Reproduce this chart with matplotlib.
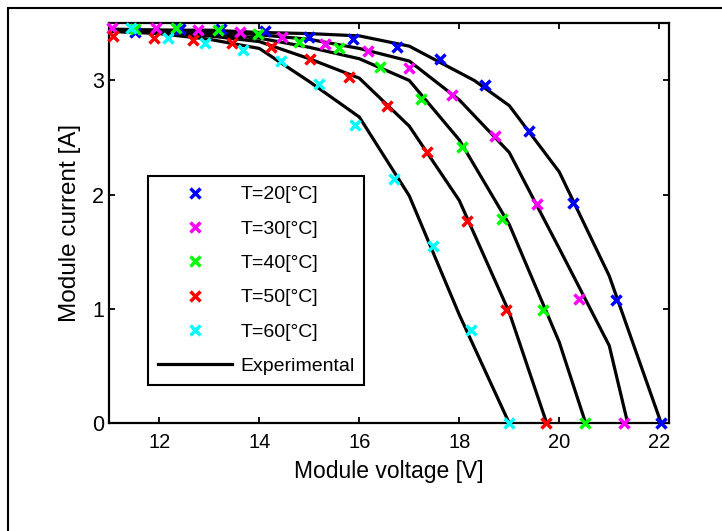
import matplotlib
matplotlib.use("Agg")
import matplotlib.pyplot as plt
from matplotlib.patches import Rectangle

plt.rcParams["font.family"] = ["Liberation Sans", "DejaVu Sans"]

# experimental I-V curves (black lines)
v_exp_20 = [11, 12, 13, 14, 15, 16, 17, 18.3, 19, 20, 21, 22.04]
i_exp_20 = [3.45, 3.44, 3.44, 3.42, 3.41, 3.39, 3.30, 3.00, 2.78, 2.20, 1.29, 0]
v_exp_30 = [11, 12, 13, 14, 15, 16, 17, 18, 19, 20, 21, 21.37]
i_exp_30 = [3.44, 3.44, 3.43, 3.40, 3.36, 3.28, 3.17, 2.83, 2.37, 1.53, 0.68, 0]
v_exp_40 = [11, 12, 13, 14, 15, 16, 17, 18, 19, 20, 20.53]
i_exp_40 = [3.44, 3.43, 3.41, 3.37, 3.29, 3.19, 3.00, 2.48, 1.74, 0.71, 0]
v_exp_50 = [11, 12, 13, 14, 15, 16, 17, 18, 19, 19.75]
i_exp_50 = [3.43, 3.42, 3.39, 3.34, 3.19, 3.02, 2.60, 1.95, 0.97, 0]
v_exp_60 = [11, 12, 13, 14, 15, 16, 17, 18, 19.0]
i_exp_60 = [3.43, 3.41, 3.36, 3.28, 2.99, 2.68, 1.99, 0.95, 0]

# simulated points (coloured crosses)
v_sim_20 = [11.51, 12.41, 13.24, 14.11, 14.99, 15.88, 16.76, 17.62, 18.52, 19.40, 20.28, 21.14, 22.04]
i_sim_20 = [3.42, 3.45, 3.45, 3.43, 3.38, 3.36, 3.29, 3.19, 2.96, 2.56, 1.93, 1.08, 0]
v_sim_30 = [11.05, 11.94, 12.77, 13.61, 14.45, 15.32, 16.17, 17.00, 17.85, 18.71, 19.56, 20.40, 21.29]
i_sim_30 = [3.46, 3.46, 3.44, 3.42, 3.38, 3.32, 3.26, 3.11, 2.87, 2.51, 1.92, 1.09, 0]
v_sim_40 = [11.51, 12.34, 13.17, 13.97, 14.79, 15.60, 16.42, 17.23, 18.05, 18.86, 19.67, 20.52]
i_sim_40 = [3.45, 3.46, 3.44, 3.41, 3.34, 3.28, 3.12, 2.84, 2.42, 1.79, 0.99, 0]
v_sim_50 = [11.07, 11.89, 12.67, 13.46, 14.24, 15.02, 15.80, 16.56, 17.35, 18.15, 18.93, 19.74]
i_sim_50 = [3.39, 3.37, 3.35, 3.33, 3.29, 3.19, 3.03, 2.78, 2.37, 1.77, 0.99, 0]
v_sim_60 = [11.44, 12.17, 12.91, 13.67, 14.44, 15.20, 15.92, 16.70, 17.47, 18.23, 18.99]
i_sim_60 = [3.46, 3.37, 3.33, 3.27, 3.17, 2.97, 2.61, 2.14, 1.55, 0.82, 0]

labels = ["T=20[°C]", "T=30[°C]", "T=40[°C]", "T=50[°C]", "T=60[°C]"]
colors = ["#0000ff", "#ff00ff", "#00ff00", "#ff0000", "#00ffff"]

fig = plt.figure(figsize=(7.22, 5.31), dpi=100)
ax = fig.add_axes([0.1515, 0.2028, 0.7754, 0.7533])

sims = [(v_sim_20, i_sim_20), (v_sim_30, i_sim_30), (v_sim_40, i_sim_40),
        (v_sim_50, i_sim_50), (v_sim_60, i_sim_60)]
exps = [(v_exp_20, i_exp_20), (v_exp_30, i_exp_30), (v_exp_40, i_exp_40),
        (v_exp_50, i_exp_50), (v_exp_60, i_exp_60)]

handles = []
for (v, i), lab, c in zip(sims, labels, colors):
    h, = ax.plot(v, i, linestyle="none", marker="x", markersize=6.5,
                 markeredgewidth=2.5, color=c, label=lab, zorder=4, clip_on=False)
    handles.append(h)

for k, (v, i) in enumerate(exps):
    h, = ax.plot(v, i, color="black", linewidth=2.3, zorder=3,
                 label="Experimental" if k == 0 else None)
    if k == 0:
        handles.append(h)

ax.set_xlim(11, 22.2)
ax.set_ylim(0, 3.5)
ax.set_xticks([12, 14, 16, 18, 20, 22])
ax.set_yticks([0, 1, 2, 3])
ax.tick_params(direction="in", top=True, right=True, length=4, width=1.3)
ax.tick_params(axis="x", labelsize=14.5, pad=7)
ax.tick_params(axis="y", labelsize=15.5, pad=4)
for s in ax.spines.values():
    s.set_linewidth(1.6)

ax.set_xlabel("Module voltage [V]", fontsize=16.5, labelpad=6)
ax.set_ylabel("Module current [A]", fontsize=17.5, labelpad=8)

leg = ax.legend(handles=handles, loc="upper left",
                bbox_to_anchor=(148 / 722, 1 - 176 / 531),
                bbox_transform=fig.transFigure, fontsize=14,
                handlelength=3.8, handletextpad=0.45, labelspacing=0.86,
                borderpad=0.5, borderaxespad=0, fancybox=False,
                framealpha=1, edgecolor="black")
leg.get_frame().set_linewidth(1.5)

# outer figure border
fig.patches.append(Rectangle((8 / 722, -0.5), 2, 0.5 + 1 - 8 / 531,
                             transform=fig.transFigure, fill=False,
                             edgecolor="black", linewidth=1.5))

fig.savefig("out.png", dpi=100)
